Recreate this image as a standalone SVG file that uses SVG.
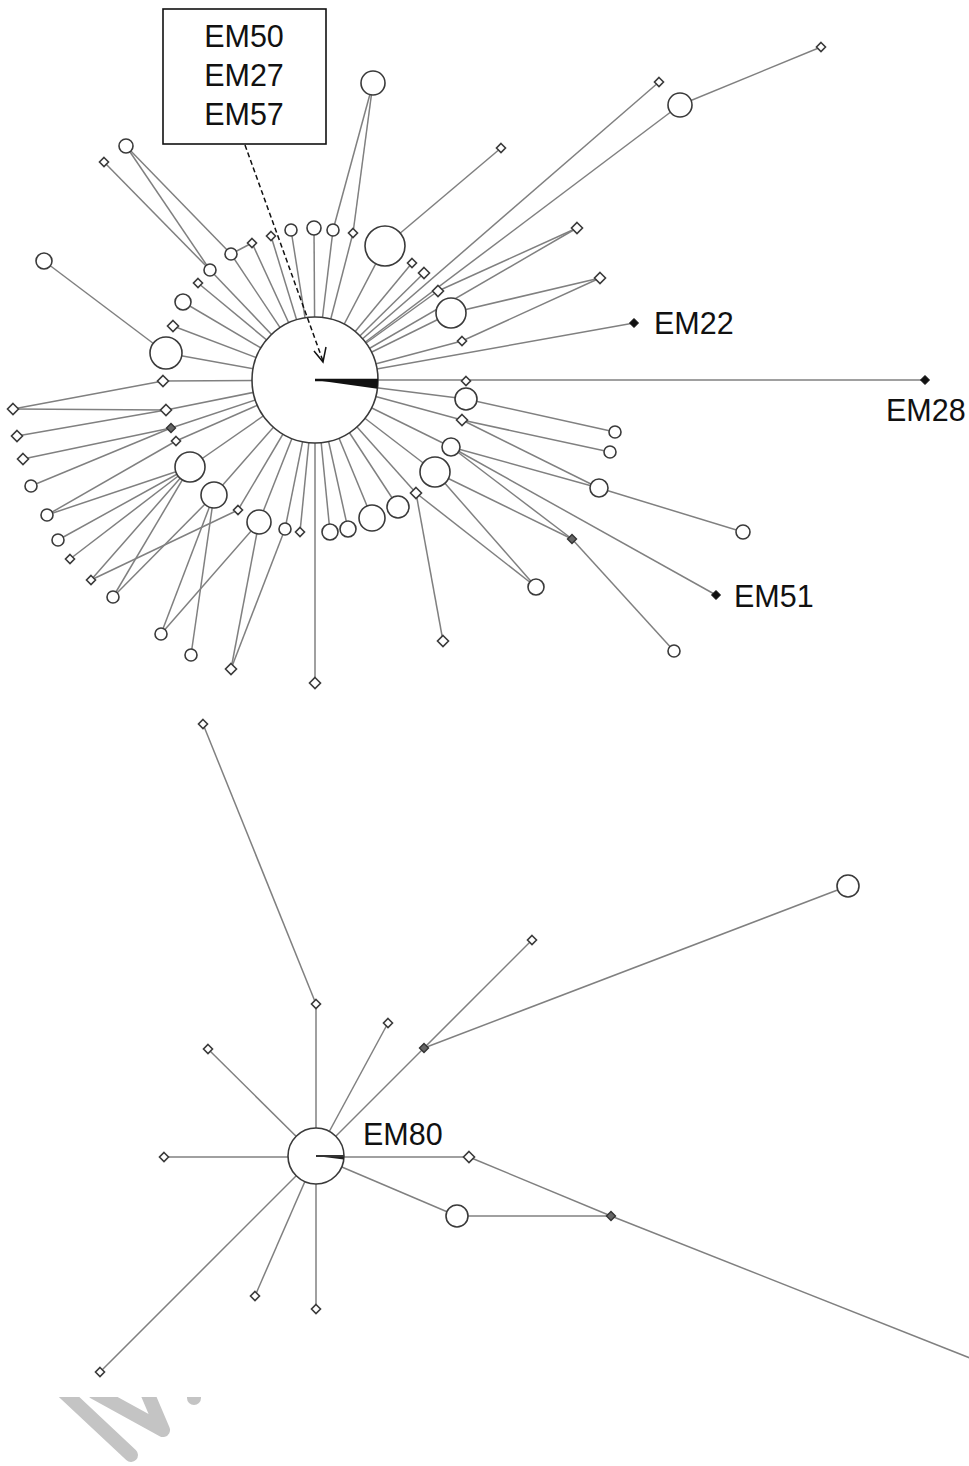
<svg xmlns="http://www.w3.org/2000/svg" xmlns:xlink="http://www.w3.org/1999/xlink" width="969" height="1466" viewBox="0 0 969 1466">
<style>
.e{stroke:#808080;stroke-width:1.5;fill:none}
.n{fill:#fff;stroke:#3a3a3a;stroke-width:1.6}
.dk{fill:#666;stroke:#333;stroke-width:1.4}
.bk{fill:#111;stroke:#111;stroke-width:1}
.t{font-family:"Liberation Sans",Arial,sans-serif;font-size:30.5px;fill:#111}
.wm{stroke:#c4c4c4;stroke-width:14;stroke-linecap:round;stroke-linejoin:round;fill:none}
</style>
<defs>
<path id="d4" d="M0,-4.5L4.5,0L0,4.5L-4.5,0Z"/>
<path id="d5" d="M0,-5.5L5.5,0L0,5.5L-5.5,0Z"/>
<clipPath id="wmclip"><rect x="0" y="1397" width="969" height="69"/></clipPath>
</defs>
<rect width="969" height="1466" fill="#fff"/>
<g id="watermark" clip-path="url(#wmclip)">
<line class="wm" x1="52" y1="1381" x2="131" y2="1455"/>
<polyline class="wm" points="94,1392 163,1430 146,1390"/>
<circle cx="194" cy="1398" r="7" fill="#c4c4c4"/>
</g>
<g id="connectors">
<line class="e" x1="315" y1="380" x2="925" y2="380"/>
<line class="e" x1="315" y1="380" x2="634" y2="323"/>
<line class="e" x1="315" y1="380" x2="577" y2="228"/>
<line class="e" x1="315" y1="380" x2="659" y2="82"/>
<line class="e" x1="315" y1="380" x2="680" y2="105"/>
<line class="e" x1="680" y1="105" x2="821" y2="47"/>
<line class="e" x1="385" y1="246" x2="501" y2="148"/>
<line class="e" x1="577" y1="228" x2="438" y2="291"/>
<line class="e" x1="600" y1="278" x2="451" y2="313"/>
<line class="e" x1="600" y1="278" x2="462" y2="341"/>
<line class="e" x1="373" y1="83" x2="333" y2="230"/>
<line class="e" x1="373" y1="83" x2="353" y2="233"/>
<line class="e" x1="126" y1="146" x2="210" y2="270"/>
<line class="e" x1="126" y1="146" x2="231" y2="254"/>
<line class="e" x1="104" y1="162" x2="210" y2="270"/>
<line class="e" x1="231" y1="254" x2="252" y2="243"/>
<line class="e" x1="44" y1="261" x2="166" y2="353"/>
<line class="e" x1="466" y1="399" x2="615" y2="432"/>
<line class="e" x1="462" y1="420" x2="610" y2="452"/>
<line class="e" x1="462" y1="420" x2="599" y2="488"/>
<line class="e" x1="451" y1="447" x2="599" y2="488"/>
<line class="e" x1="599" y1="488" x2="743" y2="532"/>
<line class="e" x1="451" y1="447" x2="572" y2="539"/>
<line class="e" x1="451" y1="447" x2="716" y2="595"/>
<line class="e" x1="435" y1="472" x2="572" y2="539"/>
<line class="e" x1="572" y1="539" x2="674" y2="651"/>
<line class="e" x1="435" y1="472" x2="536" y2="587"/>
<line class="e" x1="416" y1="493" x2="536" y2="587"/>
<line class="e" x1="416" y1="493" x2="443" y2="641"/>
<line class="e" x1="315" y1="380" x2="315" y2="683"/>
<line class="e" x1="13" y1="409" x2="163" y2="381"/>
<line class="e" x1="13" y1="409" x2="166" y2="410"/>
<line class="e" x1="17" y1="436" x2="166" y2="410"/>
<line class="e" x1="23" y1="459" x2="171" y2="428"/>
<line class="e" x1="31" y1="486" x2="171" y2="428"/>
<line class="e" x1="47" y1="515" x2="176" y2="441"/>
<line class="e" x1="47" y1="515" x2="190" y2="467"/>
<line class="e" x1="58" y1="540" x2="190" y2="467"/>
<line class="e" x1="70" y1="559" x2="190" y2="467"/>
<line class="e" x1="91" y1="580" x2="190" y2="467"/>
<line class="e" x1="91" y1="580" x2="238" y2="510"/>
<line class="e" x1="113" y1="597" x2="190" y2="467"/>
<line class="e" x1="113" y1="597" x2="214" y2="495"/>
<line class="e" x1="161" y1="634" x2="214" y2="495"/>
<line class="e" x1="161" y1="634" x2="259" y2="522"/>
<line class="e" x1="191" y1="655" x2="214" y2="495"/>
<line class="e" x1="231" y1="669" x2="259" y2="522"/>
<line class="e" x1="231" y1="669" x2="285" y2="529"/>
<g id="spokes">
<line class="e" x1="315" y1="380" x2="163" y2="381"/>
<line class="e" x1="315" y1="380" x2="166" y2="410"/>
<line class="e" x1="315" y1="380" x2="171" y2="428"/>
<line class="e" x1="315" y1="380" x2="176" y2="441"/>
<line class="e" x1="315" y1="380" x2="190" y2="467"/>
<line class="e" x1="315" y1="380" x2="214" y2="495"/>
<line class="e" x1="315" y1="380" x2="238" y2="510"/>
<line class="e" x1="315" y1="380" x2="259" y2="522"/>
<line class="e" x1="315" y1="380" x2="285" y2="529"/>
<line class="e" x1="315" y1="380" x2="300" y2="532"/>
<line class="e" x1="315" y1="380" x2="330" y2="532"/>
<line class="e" x1="315" y1="380" x2="348" y2="529"/>
<line class="e" x1="315" y1="380" x2="372" y2="518"/>
<line class="e" x1="315" y1="380" x2="398" y2="507"/>
<line class="e" x1="315" y1="380" x2="416" y2="493"/>
<line class="e" x1="315" y1="380" x2="435" y2="472"/>
<line class="e" x1="315" y1="380" x2="451" y2="447"/>
<line class="e" x1="315" y1="380" x2="462" y2="420"/>
<line class="e" x1="315" y1="380" x2="466" y2="399"/>
<line class="e" x1="315" y1="380" x2="462" y2="341"/>
<line class="e" x1="315" y1="380" x2="451" y2="313"/>
<line class="e" x1="315" y1="380" x2="438" y2="291"/>
<line class="e" x1="315" y1="380" x2="424" y2="273"/>
<line class="e" x1="315" y1="380" x2="412" y2="263"/>
<line class="e" x1="315" y1="380" x2="385" y2="246"/>
<line class="e" x1="315" y1="380" x2="353" y2="233"/>
<line class="e" x1="315" y1="380" x2="333" y2="230"/>
<line class="e" x1="315" y1="380" x2="314" y2="228"/>
<line class="e" x1="315" y1="380" x2="291" y2="230"/>
<line class="e" x1="315" y1="380" x2="271" y2="236"/>
<line class="e" x1="315" y1="380" x2="252" y2="243"/>
<line class="e" x1="315" y1="380" x2="231" y2="254"/>
<line class="e" x1="315" y1="380" x2="210" y2="270"/>
<line class="e" x1="315" y1="380" x2="198" y2="283"/>
<line class="e" x1="315" y1="380" x2="183" y2="302"/>
<line class="e" x1="315" y1="380" x2="173" y2="326"/>
<line class="e" x1="315" y1="380" x2="166" y2="353"/>
</g>
<line class="e" x1="203" y1="724" x2="316" y2="1004"/>
<line class="e" x1="316" y1="1004" x2="316" y2="1156"/>
<line class="e" x1="208" y1="1049" x2="316" y2="1156"/>
<line class="e" x1="388" y1="1023" x2="316" y2="1156"/>
<line class="e" x1="424" y1="1048" x2="316" y2="1156"/>
<line class="e" x1="424" y1="1048" x2="532" y2="940"/>
<line class="e" x1="424" y1="1048" x2="848" y2="886"/>
<line class="e" x1="164" y1="1157" x2="469" y2="1157"/>
<line class="e" x1="469" y1="1157" x2="611" y2="1216"/>
<line class="e" x1="611" y1="1216" x2="975" y2="1360"/>
<line class="e" x1="316" y1="1156" x2="457" y2="1216"/>
<line class="e" x1="457" y1="1216" x2="611" y2="1216"/>
<line class="e" x1="316" y1="1156" x2="255" y2="1296"/>
<line class="e" x1="316" y1="1156" x2="316" y2="1309"/>
<line class="e" x1="316" y1="1156" x2="100" y2="1372"/>
</g>
<g id="nodes">
<g id="hub"><circle class="n" cx="315" cy="380" r="63"/><path d="M315,380L378,380A63,63 0 0 1 377.4,388.8Z" fill="#111"/><line x1="315" y1="380" x2="378" y2="380" stroke="#111" stroke-width="2.5"/></g>
<g id="u1"><circle class="n" cx="373" cy="83" r="12"/></g>
<g id="u2"><circle class="n" cx="680" cy="105" r="12"/></g>
<g id="u3"><circle class="n" cx="126" cy="146" r="7"/></g>
<g id="u4"><circle class="n" cx="44" cy="261" r="8"/></g>
<g id="u5"><circle class="n" cx="385" cy="246" r="20"/></g>
<g id="u6"><circle class="n" cx="451" cy="313" r="15"/></g>
<g id="u7"><circle class="n" cx="466" cy="399" r="11"/></g>
<g id="u8"><circle class="n" cx="451" cy="447" r="9"/></g>
<g id="u9"><circle class="n" cx="435" cy="472" r="15"/></g>
<g id="u10"><circle class="n" cx="398" cy="507" r="11"/></g>
<g id="u11"><circle class="n" cx="372" cy="518" r="13"/></g>
<g id="u12"><circle class="n" cx="348" cy="529" r="8"/></g>
<g id="u13"><circle class="n" cx="330" cy="532" r="8"/></g>
<g id="u14"><circle class="n" cx="285" cy="529" r="6"/></g>
<g id="u15"><circle class="n" cx="259" cy="522" r="12"/></g>
<g id="u16"><circle class="n" cx="214" cy="495" r="13"/></g>
<g id="u17"><circle class="n" cx="190" cy="467" r="15"/></g>
<g id="u18"><circle class="n" cx="166" cy="353" r="16"/></g>
<g id="u19"><circle class="n" cx="183" cy="302" r="8"/></g>
<g id="u20"><circle class="n" cx="231" cy="254" r="6"/></g>
<g id="u21"><circle class="n" cx="210" cy="270" r="6"/></g>
<g id="u22"><circle class="n" cx="291" cy="230" r="6"/></g>
<g id="u23"><circle class="n" cx="314" cy="228" r="7"/></g>
<g id="u24"><circle class="n" cx="333" cy="230" r="6"/></g>
<g id="u25"><circle class="n" cx="599" cy="488" r="9"/></g>
<g id="u26"><circle class="n" cx="743" cy="532" r="7"/></g>
<g id="u27"><circle class="n" cx="536" cy="587" r="8"/></g>
<g id="u28"><circle class="n" cx="674" cy="651" r="6"/></g>
<g id="u29"><circle class="n" cx="615" cy="432" r="6"/></g>
<g id="u30"><circle class="n" cx="610" cy="452" r="6"/></g>
<g id="u31"><circle class="n" cx="31" cy="486" r="6"/></g>
<g id="u32"><circle class="n" cx="47" cy="515" r="6"/></g>
<g id="u33"><circle class="n" cx="58" cy="540" r="6"/></g>
<g id="u34"><circle class="n" cx="113" cy="597" r="6"/></g>
<g id="u35"><circle class="n" cx="161" cy="634" r="6"/></g>
<g id="u36"><circle class="n" cx="191" cy="655" r="6"/></g>
<g id="d1"><use href="#d4" class="n" x="821" y="47"/></g>
<g id="d2"><use href="#d4" class="n" x="659" y="82"/></g>
<g id="d3"><use href="#d4" class="n" x="501" y="148"/></g>
<g id="d4n"><use href="#d4" class="n" x="104" y="162"/></g>
<g id="d5n"><use href="#d4" class="n" x="412" y="263"/></g>
<g id="d6"><use href="#d5" class="n" x="424" y="273"/></g>
<g id="d7"><use href="#d5" class="n" x="438" y="291"/></g>
<g id="d8"><use href="#d5" class="n" x="577" y="228"/></g>
<g id="d9"><use href="#d5" class="n" x="600" y="278"/></g>
<g id="d10"><use href="#d4" class="n" x="462" y="341"/></g>
<g id="d11"><use href="#d4" class="n" x="466" y="381"/></g>
<g id="d12"><use href="#d5" class="n" x="462" y="420"/></g>
<g id="d13"><use href="#d5" class="n" x="416" y="493"/></g>
<g id="d14"><use href="#d5" class="n" x="443" y="641"/></g>
<g id="d15"><use href="#d4" class="n" x="300" y="532"/></g>
<g id="d16"><use href="#d4" class="n" x="238" y="510"/></g>
<g id="d17"><use href="#d5" class="n" x="231" y="669"/></g>
<g id="d18"><use href="#d5" class="n" x="315" y="683"/></g>
<g id="d19"><use href="#d5" class="n" x="13" y="409"/></g>
<g id="d20"><use href="#d5" class="n" x="166" y="410"/></g>
<g id="d21"><use href="#d5" class="n" x="17" y="436"/></g>
<g id="d22"><use href="#d4" class="n" x="176" y="441"/></g>
<g id="d23"><use href="#d5" class="n" x="23" y="459"/></g>
<g id="d24"><use href="#d4" class="n" x="70" y="559"/></g>
<g id="d25"><use href="#d4" class="n" x="91" y="580"/></g>
<g id="d26"><use href="#d5" class="n" x="163" y="381"/></g>
<g id="d27"><use href="#d5" class="n" x="173" y="326"/></g>
<g id="d28"><use href="#d4" class="n" x="198" y="283"/></g>
<g id="d29"><use href="#d4" class="n" x="252" y="243"/></g>
<g id="d30"><use href="#d4" class="n" x="271" y="236"/></g>
<g id="d31"><use href="#d4" class="n" x="353" y="233"/></g>
<g id="d32"><use href="#d4" class="dk" x="171" y="428"/></g>
<g id="d33"><use href="#d4" class="dk" x="572" y="539"/></g>
<g id="em22"><use href="#d4" class="bk" x="634" y="323"/><text class="t" x="654" y="334">EM22</text></g>
<g id="em28"><use href="#d4" class="bk" x="925" y="380"/><text class="t" x="886" y="421">EM28</text></g>
<g id="em51"><use href="#d4" class="bk" x="716" y="595"/><text class="t" x="734" y="607">EM51</text></g>
<g id="hub-label">
<rect x="163" y="9" width="163" height="135" fill="#fff" stroke="#111" stroke-width="1.6"/>
<text class="t" x="244" y="47" text-anchor="middle">EM50</text>
<text class="t" x="244" y="86" text-anchor="middle">EM27</text>
<text class="t" x="244" y="125" text-anchor="middle">EM57</text>
<line x1="245" y1="145" x2="323" y2="361" stroke="#111" stroke-width="1.5" stroke-dasharray="5,3"/>
<polyline points="314,351 323,362 326,347" fill="none" stroke="#111" stroke-width="1.5"/>
</g>
<g id="em80"><circle class="n" cx="316" cy="1156" r="28"/><path d="M316,1156L344,1156A28,28 0 0 1 343.8,1159.5Z" fill="#222"/><line x1="316" y1="1156" x2="344" y2="1156" stroke="#333" stroke-width="2"/><text class="t" x="363" y="1145">EM80</text></g>
<g id="b1"><circle class="n" cx="848" cy="886" r="11"/></g>
<g id="b2"><circle class="n" cx="457" cy="1216" r="11"/></g>
<g id="b3"><use href="#d4" class="n" x="203" y="724"/></g>
<g id="b4"><use href="#d4" class="n" x="316" y="1004"/></g>
<g id="b5"><use href="#d4" class="n" x="388" y="1023"/></g>
<g id="b6"><use href="#d4" class="n" x="208" y="1049"/></g>
<g id="b7"><use href="#d4" class="n" x="532" y="940"/></g>
<g id="b8"><use href="#d4" class="n" x="164" y="1157"/></g>
<g id="b9"><use href="#d5" class="n" x="469" y="1157"/></g>
<g id="b10"><use href="#d4" class="n" x="255" y="1296"/></g>
<g id="b11"><use href="#d4" class="n" x="316" y="1309"/></g>
<g id="b12"><use href="#d4" class="n" x="100" y="1372"/></g>
<g id="b13"><use href="#d4" class="dk" x="424" y="1048"/></g>
<g id="b14"><use href="#d4" class="dk" x="611" y="1216"/></g>
</g>
</svg>
